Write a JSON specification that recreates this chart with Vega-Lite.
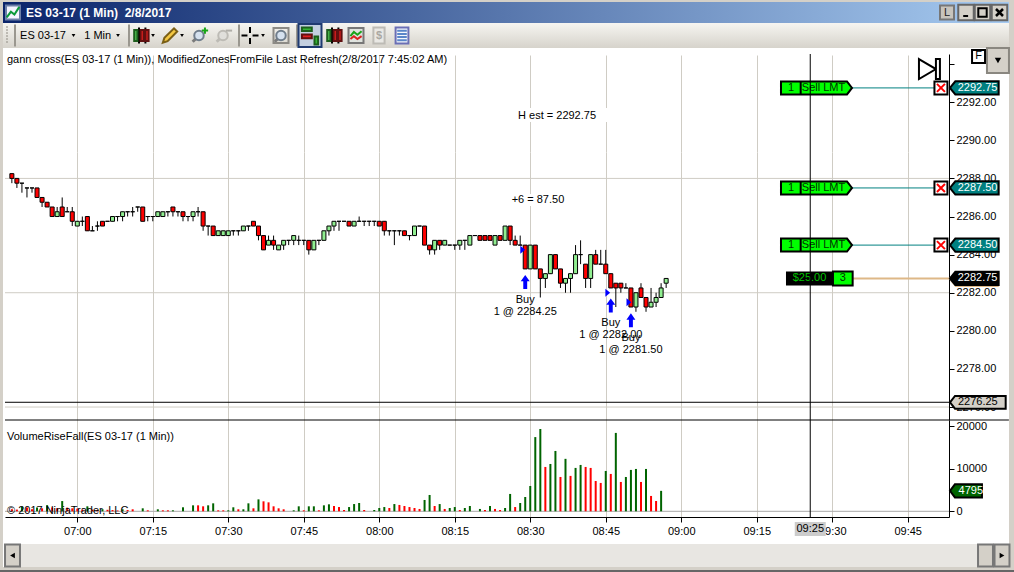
{
"$schema":"https://vega.github.io/schema/vega-lite/v6.json",
"width":1014,"height":572,
"autosize":{"type":"fit","contains":"padding"},
"padding":0,
"background":"white",
"config":{
 "view":{"stroke":null},
 "text":{"font":"Liberation Sans","fontSize":11,"color":"black"},
 "axis":{"labelFont":"Liberation Sans","labelFontSize":11,"labelColor":"black","domainColor":"black","tickColor":"black","gridColor":"#cfccc4","tickSize":5}
},
"datasets":{
 "sells":[{"p":2292.75,"label":"2292.75"},{"p":2287.5,"label":"2287.50"},{"p":2284.5,"label":"2284.50"}],
 "bars":[
 {"m":407,"o":2288.25,"h":2288.25,"l":2287.75,"c":2288,"v":500,"d":"f"},
 {"m":408,"o":2288,"h":2288,"l":2287.5,"c":2287.75,"v":400,"d":"f"},
 {"m":409,"o":2287.75,"h":2287.75,"l":2287.25,"c":2287.75,"v":1100,"d":"r"},
 {"m":410,"o":2287.5,"h":2287.5,"l":2287,"c":2287.5,"v":900,"d":"f"},
 {"m":411,"o":2287.5,"h":2287.5,"l":2287.25,"c":2287.5,"v":500,"d":"f"},
 {"m":412,"o":2287.5,"h":2287.5,"l":2287,"c":2287,"v":900,"d":"r"},
 {"m":413,"o":2287,"h":2287,"l":2286.5,"c":2286.75,"v":700,"d":"f"},
 {"m":414,"o":2286.75,"h":2286.75,"l":2286.5,"c":2286.5,"v":1450,"d":"r"},
 {"m":415,"o":2286.5,"h":2286.5,"l":2286,"c":2286,"v":900,"d":"f"},
 {"m":416,"o":2286,"h":2286.5,"l":2286,"c":2286.25,"v":700,"d":"f"},
 {"m":417,"o":2286.5,"h":2287,"l":2286,"c":2286,"v":2400,"d":"r"},
 {"m":418,"o":2286.25,"h":2286.5,"l":2286.25,"c":2286.25,"v":860,"d":"f"},
 {"m":419,"o":2286.25,"h":2286.5,"l":2285.5,"c":2285.75,"v":700,"d":"f"},
 {"m":420,"o":2285.5,"h":2285.75,"l":2285.5,"c":2285.75,"v":620,"d":"f"},
 {"m":421,"o":2285.75,"h":2286,"l":2285.5,"c":2285.75,"v":400,"d":"f"},
 {"m":422,"o":2286,"h":2286,"l":2285.25,"c":2285.25,"v":1170,"d":"r"},
 {"m":423,"o":2285.25,"h":2285.5,"l":2285.25,"c":2285.25,"v":400,"d":"f"},
 {"m":424,"o":2285.5,"h":2285.75,"l":2285.25,"c":2285.5,"v":300,"d":"f"},
 {"m":425,"o":2285.75,"h":2285.75,"l":2285.5,"c":2285.5,"v":500,"d":"r"},
 {"m":426,"o":2285.75,"h":2285.75,"l":2285.75,"c":2285.75,"v":350,"d":"f"},
 {"m":427,"o":2285.75,"h":2286,"l":2285.75,"c":2286,"v":300,"d":"f"},
 {"m":428,"o":2286,"h":2286,"l":2285.75,"c":2286,"v":200,"d":"f"},
 {"m":429,"o":2286,"h":2286.25,"l":2285.75,"c":2286.25,"v":470,"d":"r"},
 {"m":430,"o":2286.25,"h":2286.25,"l":2286,"c":2286.25,"v":300,"d":"f"},
 {"m":431,"o":2286.25,"h":2286.5,"l":2286,"c":2286.25,"v":470,"d":"f"},
 {"m":432,"o":2286.5,"h":2286.5,"l":2286.25,"c":2286.5,"v":null,"d":"f"},
 {"m":433,"o":2286.5,"h":2286.5,"l":2285.75,"c":2285.75,"v":700,"d":"r"},
 {"m":434,"o":2286,"h":2286,"l":2285.75,"c":2286,"v":230,"d":"f"},
 {"m":435,"o":2286,"h":2286,"l":2285.75,"c":2286,"v":null,"d":"f"},
 {"m":436,"o":2286,"h":2286.25,"l":2286,"c":2286.25,"v":470,"d":"r"},
 {"m":437,"o":2286,"h":2286.25,"l":2286,"c":2286.25,"v":230,"d":"f"},
 {"m":438,"o":2286.25,"h":2286.25,"l":2286,"c":2286.25,"v":230,"d":"f"},
 {"m":439,"o":2286.5,"h":2286.5,"l":2286,"c":2286.25,"v":230,"d":"r"},
 {"m":440,"o":2286.25,"h":2286.25,"l":2286,"c":2286.25,"v":null,"d":"f"},
 {"m":441,"o":2286.25,"h":2286.25,"l":2285.75,"c":2286,"v":940,"d":"r"},
 {"m":442,"o":2286,"h":2286,"l":2285.75,"c":2286,"v":null,"d":"f"},
 {"m":443,"o":2286,"h":2286.25,"l":2285.75,"c":2286.25,"v":1400,"d":"r"},
 {"m":444,"o":2286.25,"h":2286.5,"l":2286,"c":2286.25,"v":1400,"d":"f"},
 {"m":445,"o":2286.25,"h":2286.25,"l":2285.25,"c":2285.5,"v":1170,"d":"f"},
 {"m":446,"o":2285.5,"h":2285.5,"l":2285,"c":2285.5,"v":1400,"d":"r"},
 {"m":447,"o":2285.5,"h":2285.5,"l":2285,"c":2285,"v":1870,"d":"r"},
 {"m":448,"o":2285,"h":2285.25,"l":2285,"c":2285.25,"v":230,"d":"f"},
 {"m":449,"o":2285,"h":2285.25,"l":2285,"c":2285.25,"v":230,"d":"f"},
 {"m":450,"o":2285,"h":2285.25,"l":2285,"c":2285.25,"v":230,"d":"r"},
 {"m":451,"o":2285.25,"h":2285.25,"l":2285,"c":2285.25,"v":940,"d":"r"},
 {"m":452,"o":2285.25,"h":2285.25,"l":2285,"c":2285.25,"v":470,"d":"f"},
 {"m":453,"o":2285.25,"h":2285.5,"l":2285.25,"c":2285.5,"v":470,"d":"r"},
 {"m":454,"o":2285.5,"h":2285.5,"l":2285.25,"c":2285.5,"v":1870,"d":"r"},
 {"m":455,"o":2285.75,"h":2285.75,"l":2285.5,"c":2285.5,"v":700,"d":"f"},
 {"m":456,"o":2285.5,"h":2285.5,"l":2284.75,"c":2285,"v":2800,"d":"r"},
 {"m":457,"o":2285,"h":2285,"l":2284.25,"c":2284.25,"v":2340,"d":"f"},
 {"m":458,"o":2284.5,"h":2285,"l":2284.5,"c":2284.75,"v":2100,"d":"f"},
 {"m":459,"o":2284.75,"h":2285,"l":2284.25,"c":2284.5,"v":1170,"d":"f"},
 {"m":460,"o":2284.25,"h":2284.5,"l":2284.25,"c":2284.5,"v":700,"d":"f"},
 {"m":461,"o":2284.5,"h":2284.75,"l":2284.25,"c":2284.75,"v":470,"d":"f"},
 {"m":462,"o":2284.75,"h":2284.75,"l":2284.5,"c":2284.75,"v":null,"d":"f"},
 {"m":463,"o":2284.75,"h":2285,"l":2284.5,"c":2285,"v":230,"d":"r"},
 {"m":464,"o":2284.75,"h":2285,"l":2284.5,"c":2284.75,"v":1170,"d":"r"},
 {"m":465,"o":2284.75,"h":2284.75,"l":2284.5,"c":2284.75,"v":230,"d":"f"},
 {"m":466,"o":2284.75,"h":2284.75,"l":2284,"c":2284.25,"v":1170,"d":"r"},
 {"m":467,"o":2284.25,"h":2284.75,"l":2284.25,"c":2284.75,"v":1170,"d":"r"},
 {"m":468,"o":2284.75,"h":2284.75,"l":2284.5,"c":2284.75,"v":230,"d":"f"},
 {"m":469,"o":2284.75,"h":2285.25,"l":2284.75,"c":2285.25,"v":1400,"d":"r"},
 {"m":470,"o":2285.25,"h":2285.5,"l":2285,"c":2285.5,"v":1640,"d":"r"},
 {"m":471,"o":2285.5,"h":2285.75,"l":2285.25,"c":2285.75,"v":1250,"d":"f"},
 {"m":472,"o":2285.75,"h":2285.75,"l":2285.25,"c":2285.75,"v":1000,"d":"f"},
 {"m":473,"o":2285.75,"h":2285.75,"l":2285.75,"c":2285.75,"v":310,"d":"f"},
 {"m":474,"o":2285.75,"h":2285.75,"l":2285.5,"c":2285.5,"v":1000,"d":"r"},
 {"m":475,"o":2285.5,"h":2285.75,"l":2285.5,"c":2285.75,"v":1700,"d":"r"},
 {"m":476,"o":2285.75,"h":2286,"l":2285.75,"c":2285.75,"v":1950,"d":"r"},
 {"m":477,"o":2285.75,"h":2285.75,"l":2285.5,"c":2285.75,"v":310,"d":"f"},
 {"m":478,"o":2285.75,"h":2285.75,"l":2285.5,"c":2285.75,"v":null,"d":"f"},
 {"m":479,"o":2285.75,"h":2285.75,"l":2285.5,"c":2285.75,"v":310,"d":"r"},
 {"m":480,"o":2285.75,"h":2285.75,"l":2285.5,"c":2285.5,"v":780,"d":"r"},
 {"m":481,"o":2285.75,"h":2285.75,"l":2285,"c":2285.25,"v":1000,"d":"r"},
 {"m":482,"o":2285.25,"h":2285.25,"l":2285,"c":2285.25,"v":780,"d":"f"},
 {"m":483,"o":2285.25,"h":2285.25,"l":2284.5,"c":2285.25,"v":1700,"d":"r"},
 {"m":484,"o":2285.25,"h":2285.25,"l":2285,"c":2285.25,"v":1490,"d":"f"},
 {"m":485,"o":2285.25,"h":2285.25,"l":2285,"c":2285,"v":1250,"d":"f"},
 {"m":486,"o":2285,"h":2285,"l":2284.75,"c":2285,"v":1000,"d":"f"},
 {"m":487,"o":2285,"h":2285.5,"l":2285,"c":2285.5,"v":780,"d":"f"},
 {"m":488,"o":2285.5,"h":2285.5,"l":2285.5,"c":2285.5,"v":550,"d":"f"},
 {"m":489,"o":2285.5,"h":2285.5,"l":2284.5,"c":2284.5,"v":2660,"d":"r"},
 {"m":490,"o":2284.5,"h":2284.5,"l":2284,"c":2284.25,"v":3830,"d":"r"},
 {"m":491,"o":2284.25,"h":2284.75,"l":2284,"c":2284.75,"v":1250,"d":"f"},
 {"m":492,"o":2284.75,"h":2284.75,"l":2284.25,"c":2284.5,"v":1700,"d":"r"},
 {"m":493,"o":2284.5,"h":2284.75,"l":2284.5,"c":2284.75,"v":550,"d":"f"},
 {"m":494,"o":2284.5,"h":2284.5,"l":2284.5,"c":2284.5,"v":780,"d":"r"},
 {"m":495,"o":2284.5,"h":2284.5,"l":2284.25,"c":2284.5,"v":1000,"d":"r"},
 {"m":496,"o":2284.5,"h":2284.75,"l":2284.25,"c":2284.75,"v":310,"d":"f"},
 {"m":497,"o":2284.75,"h":2284.75,"l":2284.25,"c":2284.75,"v":780,"d":"r"},
 {"m":498,"o":2284.5,"h":2285,"l":2284.5,"c":2285,"v":1250,"d":"r"},
 {"m":499,"o":2285,"h":2285,"l":2285,"c":2285,"v":null,"d":"f"},
 {"m":500,"o":2285,"h":2285,"l":2284.75,"c":2284.75,"v":550,"d":"r"},
 {"m":501,"o":2285,"h":2285,"l":2284.75,"c":2284.75,"v":310,"d":"f"},
 {"m":502,"o":2285,"h":2285,"l":2284.75,"c":2284.75,"v":1250,"d":"r"},
 {"m":503,"o":2284.5,"h":2285,"l":2284.5,"c":2285,"v":550,"d":"f"},
 {"m":504,"o":2285,"h":2285,"l":2284.75,"c":2284.75,"v":310,"d":"f"},
 {"m":505,"o":2284.75,"h":2285.5,"l":2284.75,"c":2285.5,"v":780,"d":"r"},
 {"m":506,"o":2285.5,"h":2285.5,"l":2284.5,"c":2284.75,"v":4070,"d":"r"},
 {"m":507,"o":2284.75,"h":2285,"l":2284.5,"c":2284.5,"v":1000,"d":"f"},
 {"m":508,"o":2284.5,"h":2285,"l":2284.5,"c":2284.5,"v":1950,"d":"r"},
 {"m":509,"o":2284.5,"h":2284.5,"l":2283.25,"c":2283.25,"v":3360,"d":"r"},
 {"m":510,"o":2283.25,"h":2284.5,"l":2283.25,"c":2284.5,"v":5940,"d":"r"},
 {"m":511,"o":2284.5,"h":2284.5,"l":2283.25,"c":2283.25,"v":17400,"d":"r"},
 {"m":512,"o":2283.25,"h":2283.25,"l":2281.75,"c":2282.75,"v":19300,"d":"r"},
 {"m":513,"o":2282.75,"h":2283,"l":2282.25,"c":2283,"v":10400,"d":"f"},
 {"m":514,"o":2283,"h":2284,"l":2283,"c":2284,"v":11100,"d":"r"},
 {"m":515,"o":2284,"h":2284,"l":2283.25,"c":2283.25,"v":14150,"d":"r"},
 {"m":516,"o":2283.25,"h":2283.25,"l":2282.25,"c":2282.5,"v":8050,"d":"f"},
 {"m":517,"o":2282.5,"h":2282.75,"l":2282,"c":2282.75,"v":12300,"d":"r"},
 {"m":518,"o":2282.75,"h":2283,"l":2282,"c":2283,"v":8300,"d":"f"},
 {"m":519,"o":2283,"h":2284.5,"l":2283,"c":2284,"v":10170,"d":"r"},
 {"m":520,"o":2284,"h":2284.75,"l":2283.5,"c":2284,"v":10870,"d":"r"},
 {"m":521,"o":2283.5,"h":2283.5,"l":2282.25,"c":2282.75,"v":10400,"d":"f"},
 {"m":522,"o":2282.75,"h":2284,"l":2282.25,"c":2284,"v":10170,"d":"f"},
 {"m":523,"o":2284,"h":2284.25,"l":2283.5,"c":2283.5,"v":7100,"d":"f"},
 {"m":524,"o":2283.5,"h":2284.25,"l":2283.5,"c":2283.5,"v":6650,"d":"f"},
 {"m":525,"o":2283.5,"h":2284.25,"l":2283,"c":2283,"v":9460,"d":"r"},
 {"m":526,"o":2283,"h":2283,"l":2282.25,"c":2282.25,"v":8760,"d":"f"},
 {"m":527,"o":2282.5,"h":2282.5,"l":2281.25,"c":2282.25,"v":18380,"d":"r"},
 {"m":528,"o":2282.5,"h":2282.5,"l":2282,"c":2282.25,"v":6880,"d":"f"},
 {"m":529,"o":2282.25,"h":2282.5,"l":2282.25,"c":2282.25,"v":8050,"d":"r"},
 {"m":530,"o":2282.25,"h":2282.25,"l":2281.25,"c":2281.25,"v":9700,"d":"r"},
 {"m":531,"o":2281.25,"h":2282,"l":2281,"c":2282,"v":9930,"d":"r"},
 {"m":532,"o":2282.25,"h":2282.5,"l":2281.75,"c":2281.75,"v":6880,"d":"f"},
 {"m":533,"o":2281.75,"h":2281.75,"l":2281,"c":2281.25,"v":9930,"d":"r"},
 {"m":534,"o":2281.25,"h":2282.25,"l":2281.25,"c":2281.5,"v":3600,"d":"f"},
 {"m":535,"o":2281.5,"h":2282,"l":2281.25,"c":2281.75,"v":2420,"d":"f"},
 {"m":536,"o":2281.75,"h":2282.5,"l":2281.75,"c":2282.25,"v":4795,"d":"r"},
 {"m":537,"o":2282.5,"h":2282.75,"l":2282.25,"c":2282.75,"v":null,"d":"r"}
 ]
},
"resolve":{"scale":{"x":"independent","y":"independent"}},
"layer":[
{
 "encoding":{
  "x":{"field":"slot","type":"quantitative","axis":null,"scale":{"domain":[0,1,2,3,4,10,11,12,13,14,15,21,22,23,24,25,26,27,28,29,30,31,32,33,34,35,36,37,38,39,40,41,42,43,51,52,53],"range":[0,3,5,1009,1014,13,26,947,966,982.5,999.5,7,15,43,73.5,97.7,118,129,141,153,170,182,199,223,239,250,263,281,297,310,334,356,379,402,12.5,985.5,1002],"zero":false,"nice":false}},
  "y":{"field":"band","type":"quantitative","axis":null,"scale":{"domain":[-1,0,1,2,3,4,5,6],"range":[0,2,23,48,544,567,570,572],"zero":false,"nice":false}}
 },
 "layer":[
  {"data":{"values":[{"slot":1,"slot2":3,"band":0,"band2":1}]},"mark":{"type":"rect","color":{"gradient":"linear","x1":0,"y1":0,"x2":1,"y2":0,"stops":[{"offset":0,"color":"#0a246a"},{"offset":1,"color":"#a6caf0"}]}},"encoding":{"x2":{"field":"slot2"},"y2":{"field":"band2"}}},
  {"data":{"values":[{"slot":1,"slot2":3,"band":1,"band2":2}]},"mark":{"type":"rect","color":{"gradient":"linear","x1":0,"y1":0,"x2":0,"y2":1,"stops":[{"offset":0,"color":"#f6f5f1"},{"offset":1,"color":"#d6d3cb"}]}},"encoding":{"x2":{"field":"slot2"},"y2":{"field":"band2"}}},
  {"data":{"values":[{"slot":0,"slot2":1,"band":-1,"band2":6},{"slot":3,"slot2":4,"band":-1,"band2":6},{"slot":0,"slot2":4,"band":-1,"band2":0},{"slot":0,"slot2":4,"band":4,"band2":6}]},"mark":{"type":"rect","color":"#d4d0c8"},"encoding":{"x2":{"field":"slot2"},"y2":{"field":"band2"}}},
  {"data":{"values":[{"slot":2,"slot2":3,"band":3,"band2":4}]},"mark":{"type":"rect","color":"#e8e6e2"},"encoding":{"x2":{"field":"slot2"},"y2":{"field":"band2"}}},
  {"data":{"values":[{"slot":0,"slot2":4,"band":5,"band2":6}]},"mark":{"type":"rect","color":"#666666"},"encoding":{"x2":{"field":"slot2"},"y2":{"field":"band2"}}},
  {"data":{"values":[{"slot":10,"band":0.5}]},"mark":{"type":"point","shape":"M-1,-1L1,-1L1,1L-1,1Z","size":196,"filled":true,"fill":"#f4f4ff","stroke":"#6c7fa8","opacity":1}},
  {"data":{"values":[{"slot":10,"band":0.5}]},"mark":{"type":"point","shape":"M-.9,.7L-.3,-.1L.2,.3L.9,-.8","size":196,"filled":false,"stroke":"#0a9a3a","strokeWidth":2,"opacity":1}},
  {"data":{"values":[{"slot":11,"band":0.5,"label":"ES 03-17 (1 Min)\u00a0 2/8/2017"}]},"mark":{"type":"text","align":"left","color":"white","fontWeight":"bold","fontSize":12},"encoding":{"text":{"field":"label"}}},
  {"data":{"values":[{"slot":12,"band":0.5}]},"mark":{"type":"point","shape":"square","size":196,"filled":true,"fill":"#c8c4bc","stroke":"#777777","strokeWidth":2,"opacity":1}},
  {"data":{"values":[{"slot":12,"band":0.5,"label":"L"}]},"mark":{"type":"text","color":"#222222"},"encoding":{"text":{"field":"label"}}},
  {"data":{"values":[{"slot":13,"band":0.5},{"slot":14,"band":0.5},{"slot":15,"band":0.5}]},"mark":{"type":"point","shape":"square","size":240,"filled":true,"fill":"#d4d0c8","stroke":"#666666","opacity":1}},
  {"data":{"values":[{"slot":13,"band":0.5}]},"mark":{"type":"point","shape":"M-.4,.5L.3,.5","size":196,"filled":false,"stroke":"black","strokeWidth":2,"opacity":1}},
  {"data":{"values":[{"slot":14,"band":0.5}]},"mark":{"type":"point","shape":"M-.6,-.6L.6,-.6L.6,.6L-.6,.6Z","size":196,"filled":false,"stroke":"black","opacity":1}},
  {"data":{"values":[{"slot":15,"band":0.5}]},"mark":{"type":"point","shape":"M-.5,-.5L.5,.5M.5,-.5L-.5,.5","size":196,"filled":false,"stroke":"black","strokeWidth":2.5,"opacity":1}},
  {"data":{"values":[{"slot":22,"band":1.5},{"slot":27,"band":1.5},{"slot":34,"band":1.5},{"slot":38,"band":1.5}]},"mark":{"type":"point","shape":"M0,-1L0,1","size":484,"filled":false,"stroke":"#9a978f","opacity":1}},
  {"data":{"values":[{"slot":21,"band":1.5}]},"mark":{"type":"point","shape":"M0,-1L0,1","size":324,"filled":false,"stroke":"#8f8c84","strokeWidth":2,"strokeDash":[1,2],"opacity":1}},
  {"data":{"values":[{"slot":23,"band":1.5,"label":"ES 03-17"},{"slot":25,"band":1.5,"label":"1 Min"}]},"mark":{"type":"text"},"encoding":{"text":{"field":"label"}}},
  {"data":{"values":[{"slot":24,"band":1.5},{"slot":26,"band":1.5},{"slot":29,"band":1.5},{"slot":31,"band":1.5},{"slot":36,"band":1.5}]},"mark":{"type":"point","shape":"triangle-down","size":14,"filled":true,"color":"black","opacity":1}},
  {"data":{"values":[{"slot":39,"band":1.5}]},"mark":{"type":"point","shape":"square","size":529,"filled":true,"fill":"#c3cfe0","stroke":"#1f3a70","opacity":1}},
  {"data":{"values":[{"slot":28,"band":1.5},{"slot":40,"band":1.5}]},"mark":{"type":"point","shape":"M-.25,-1L-.25,1M.55,-1L.55,1","size":256,"filled":false,"stroke":"black","opacity":1}},
  {"data":{"values":[{"slot":28,"band":1.5},{"slot":40,"band":1.5}]},"mark":{"type":"point","shape":"M-.85,-.7L-.45,-.7L-.45,.7L-.85,.7Z","size":256,"filled":true,"fill":"#52c452","stroke":"#1d5e1d","opacity":1}},
  {"data":{"values":[{"slot":28,"band":1.5},{"slot":40,"band":1.5}]},"mark":{"type":"point","shape":"M-.05,-.7L.35,-.7L.35,.7L-.05,.7ZM.55,-.7L.95,-.7L.95,.7L.55,.7Z","size":256,"filled":true,"fill":"#e32020","stroke":"#611010","opacity":1}},
  {"data":{"values":[{"slot":39,"band":1.5}]},"mark":{"type":"point","shape":"M-.9,-.9L.2,-.9L.2,-.5L-.9,-.5Z","size":324,"filled":true,"fill":"#35b535","stroke":"#1d5e1d","opacity":1}},
  {"data":{"values":[{"slot":39,"band":1.5}]},"mark":{"type":"point","shape":"M-.9,-.1L.2,-.1L.2,.3L-.9,.3Z","size":324,"filled":true,"fill":"#e32020","stroke":"#611010","opacity":1}},
  {"data":{"values":[{"slot":39,"band":1.5}]},"mark":{"type":"point","shape":"M.5,.1L.9,.1L.9,1L.5,1Z","size":324,"filled":true,"fill":"#35b535","stroke":"#1d5e1d","opacity":1}},
  {"data":{"values":[{"slot":30,"band":1.5}]},"mark":{"type":"point","shape":"M-.9,.9L-.7,.3L.5,-.9L.9,-.5L-.3,.7Z","size":256,"filled":true,"fill":"#f5c842","stroke":"#7a5f16","opacity":1}},
  {"data":{"values":[{"slot":32,"band":1.5},{"slot":37,"band":1.5}]},"mark":{"type":"point","shape":"M-.9,.9L-.2,.2","size":196,"filled":false,"stroke":"#7b7b7b","strokeWidth":3,"opacity":1}},
  {"data":{"values":[{"slot":33,"band":1.5}]},"mark":{"type":"point","shape":"M-.9,.9L-.2,.2","size":196,"filled":false,"stroke":"#bdbbb5","strokeWidth":3,"opacity":1}},
  {"data":{"values":[{"slot":32,"band":1.5},{"slot":37,"band":1.5}]},"mark":{"type":"point","shape":"circle","size":90,"filled":true,"fill":"#d5e1ef","stroke":"#6f7d8c","opacity":1}},
  {"data":{"values":[{"slot":33,"band":1.5}]},"mark":{"type":"point","shape":"circle","size":90,"filled":true,"fill":"#e0dfdb","stroke":"#bdbbb5","opacity":1}},
  {"data":{"values":[{"slot":32,"band":1.5}]},"mark":{"type":"point","shape":"M.4,-.7L1.3,-.7M.85,-1.15L.85,-.25","size":196,"filled":false,"stroke":"#17a517","strokeWidth":2,"opacity":1}},
  {"data":{"values":[{"slot":33,"band":1.5}]},"mark":{"type":"point","shape":"M.4,-.7L1.3,-.7","size":196,"filled":false,"stroke":"#b0aea8","strokeWidth":2,"opacity":1}},
  {"data":{"values":[{"slot":35,"band":1.5}]},"mark":{"type":"point","shape":"M-1,0L-.3,0M.3,0L1,0M0,-1L0,-.3M0,.3L0,1","size":289,"filled":false,"stroke":"black","strokeWidth":2,"opacity":1}},
  {"data":{"values":[{"slot":37,"band":1.5}]},"mark":{"type":"point","shape":"M-1,-1L1,-1L1,1L-1,1Z","size":225,"filled":false,"stroke":"#8c8a85","opacity":1}},
  {"data":{"values":[{"slot":41,"band":1.5}]},"mark":{"type":"point","shape":"square","size":225,"filled":true,"fill":"#dfe3de","stroke":"#777777","opacity":1}},
  {"data":{"values":[{"slot":41,"band":1.5}]},"mark":{"type":"point","shape":"M-.8,.1L-.3,-.5L.2,-.1L.8,-.6","size":196,"filled":false,"stroke":"#1aa31a","opacity":1}},
  {"data":{"values":[{"slot":41,"band":1.5}]},"mark":{"type":"point","shape":"M-.8,.5L-.3,.1L.2,.5L.8,.1","size":196,"filled":false,"stroke":"#d92020","opacity":1}},
  {"data":{"values":[{"slot":42,"band":1.5}]},"mark":{"type":"point","shape":"M-.7,-1L.7,-1L.7,1L-.7,1Z","size":256,"filled":true,"fill":"#e9e8e4","stroke":"#bdbbb5","opacity":1}},
  {"data":{"values":[{"slot":42,"band":1.5,"label":"$"}]},"mark":{"type":"text","fontWeight":"bold","color":"#a9a7a1"},"encoding":{"text":{"field":"label"}}},
  {"data":{"values":[{"slot":43,"band":1.5}]},"mark":{"type":"point","shape":"M-.8,-1L.8,-1L.8,1L-.8,1Z","size":256,"filled":true,"fill":"#f4f6fb","stroke":"#6a6fb5","opacity":1}},
  {"data":{"values":[{"slot":43,"band":1.5}]},"mark":{"type":"point","shape":"M-.6,-.6L.6,-.6M-.6,-.2L.6,-.2M-.6,.2L.6,.2M-.6,.6L.6,.6","size":256,"filled":false,"stroke":"#5a86c9","opacity":1}},
  {"data":{"values":[{"slot":51,"band":3.5},{"slot":52,"band":3.5},{"slot":53,"band":3.5}]},"mark":{"type":"point","shape":"M-.68,-1L.68,-1L.68,1L-.68,1Z","size":484,"filled":true,"fill":"#d4d0c8","stroke":"#777777","opacity":1}},
  {"data":{"values":[{"slot":51,"band":3.5}]},"mark":{"type":"point","shape":"triangle-left","size":30,"filled":true,"color":"black","opacity":1}},
  {"data":{"values":[{"slot":53,"band":3.5}]},"mark":{"type":"point","shape":"triangle-right","size":30,"filled":true,"color":"black","opacity":1}}
 ]
},
{
 "layer":[
  {"data":{"values":[{"p":2288},{"p":2282},{"p":2276}]},"mark":{"type":"rule","color":"#cfccc4"},
   "encoding":{
    "x":{"datum":405.635,"type":"quantitative","scale":{"domain":[405.635,593.2],"range":[5,949],"padding":0,"zero":false,"nice":false},
     "axis":{"title":null,"orient":"bottom","offset":-152,"grid":true,"labels":false,"ticks":false,"domain":false,"values":[420,435,450,465,480,495,510,525,540,555,570,585]}},
    "x2":{"datum":593.2},
    "y":{"field":"p","type":"quantitative","scale":{"domain":[2275.32,2294.53],"range":[420,54],"zero":false,"nice":false},
     "axis":{"title":null,"orient":"right","offset":-65,"values":[2276,2278,2280,2282,2284,2286,2288,2290,2292,2294],"labelExpr":"datum.value>2293?'':format(datum.value,'.2f')","labelPadding":2,"grid":false}}}},
  {"data":{"name":"bars"},"mark":{"type":"rule","color":"black"},
   "encoding":{"x":{"field":"m","type":"quantitative"},"y":{"field":"l","type":"quantitative"},"y2":{"field":"h"}}},
  {"data":{"name":"bars"},"mark":{"type":"bar","size":4,"stroke":"black","strokeWidth":1},
   "encoding":{"x":{"field":"m","type":"quantitative"},"y":{"field":"o","type":"quantitative","stack":null},"y2":{"field":"c"},
    "color":{"condition":{"test":"datum.c<datum.o","value":"#ff0000"},"value":"#90ee90"}}},
  {"data":{"values":[{"m":508.5,"p":2284.25},{"m":525.4,"p":2282},{"m":529.6,"p":2281.5}]},
   "mark":{"type":"point","shape":"M-.6,-1L.6,0L-.6,1Z","size":64,"filled":true,"color":"#0000ff","opacity":1},
   "encoding":{"x":{"field":"m","type":"quantitative"},"y":{"field":"p","type":"quantitative"}}},
  {"data":{"values":[{"m":509,"p":2282.56},{"m":526,"p":2281.33},{"m":530,"p":2280.55}]},
   "mark":{"type":"point","shape":"M0,-1L.64,-.1L.28,-.1L.28,1L-.28,1L-.28,-.1L-.64,-.1Z","size":196,"filled":true,"color":"#0000ff","opacity":1},
   "encoding":{"x":{"field":"m","type":"quantitative"},"y":{"field":"p","type":"quantitative"}}},
  {"data":{"values":[{"m":506.57,"m2":525.83,"p":2291.7,"p2":2290.96},{"m":504.98,"m2":518.3,"p":2287.18,"p2":2286.55}]},
   "mark":{"type":"rect","color":"white"},
   "encoding":{"x":{"field":"m","type":"quantitative"},"x2":{"field":"m2"},"y":{"field":"p","type":"quantitative"},"y2":{"field":"p2"}}},
  {"data":{"values":[
    {"m":509,"p":2281.62,"label":"Buy"},{"m":509,"p":2280.99,"label":"1 @ 2284.25"},
    {"m":526,"p":2280.41,"label":"Buy"},{"m":526,"p":2279.78,"label":"1 @ 2282.00"},
    {"m":530,"p":2279.62,"label":"Buy"},{"m":530,"p":2278.99,"label":"1 @ 2281.50"},
    {"m":515.32,"p":2291.28,"label":"H est = 2292.75"},{"m":511.53,"p":2286.87,"label":"+6 = 87.50"}]},
   "mark":{"type":"text"},
   "encoding":{"x":{"field":"m","type":"quantitative"},"y":{"field":"p","type":"quantitative"},"text":{"field":"label"}}},
  {"data":{"values":[{"m":406.03,"p":2294.22,"label":"gann cross(ES 03-17 (1 Min)), ModifiedZonesFromFile Last Refresh(2/8/2017 7:45:02 AM)"}]},
   "mark":{"type":"text","align":"left"},
   "encoding":{"x":{"field":"m","type":"quantitative"},"y":{"field":"p","type":"quantitative"},"text":{"field":"label"}}},
  {"data":{"name":"sells"},"mark":{"type":"rule","color":"#008080"},
   "encoding":{"x":{"datum":573.93,"type":"quantitative"},"x2":{"datum":590.22},"y":{"field":"p","type":"quantitative"}}},
  {"data":{"values":[{"p":2282.75}]},"mark":{"type":"rule","color":"#deb887","strokeWidth":2},
   "encoding":{"x":{"datum":573.93,"type":"quantitative"},"x2":{"datum":593.4},"y":{"field":"p","type":"quantitative"}}},
  {"data":{"values":[{"p":2276.25}]},"mark":{"type":"rule","color":"black"},
   "encoding":{"x":{"datum":405.635,"type":"quantitative"},"x2":{"datum":593.2},"y":{"field":"p","type":"quantitative"}}},
  {"data":{"name":"sells"},"mark":{"type":"point","shape":"M-1,-.183L.86,-.183L1,0L.86,.183L-1,.183Z","size":5041,"filled":true,"fill":"#00ff00","stroke":"black","opacity":1},
   "encoding":{"x":{"datum":566.87,"type":"quantitative"},"y":{"field":"p","type":"quantitative"}}},
  {"data":{"name":"sells"},"mark":{"type":"point","shape":"M0,-1L0,1","size":169,"filled":false,"stroke":"black","opacity":1},
   "encoding":{"x":{"datum":563.73,"type":"quantitative"},"y":{"field":"p","type":"quantitative"}}},
  {"data":{"name":"sells"},"mark":{"type":"text","color":"#003300"},
   "encoding":{"x":{"datum":561.8,"type":"quantitative"},"y":{"field":"p","type":"quantitative"},"text":{"value":"1"}}},
  {"data":{"name":"sells"},"mark":{"type":"text","color":"#003300"},
   "encoding":{"x":{"datum":568.27,"type":"quantitative"},"y":{"field":"p","type":"quantitative"},"text":{"value":"Sell LMT"}}},
  {"data":{"name":"sells"},"mark":{"type":"point","shape":"square","size":169,"filled":true,"fill":"white","stroke":"black","opacity":1},
   "encoding":{"x":{"datum":591.6,"type":"quantitative"},"y":{"field":"p","type":"quantitative"}}},
  {"data":{"name":"sells"},"mark":{"type":"point","shape":"M-1,-1L1,1M-1,1L1,-1","size":64,"filled":false,"stroke":"#ff0000","strokeWidth":2,"opacity":1},
   "encoding":{"x":{"datum":591.6,"type":"quantitative"},"y":{"field":"p","type":"quantitative"}}},
  {"data":{"name":"sells"},"mark":{"type":"point","shape":"M-1,0L-.78,-.27L1,-.27L1,.27L-.78,.27Z","size":2372,"filled":true,"fill":"#008080","stroke":"black","opacity":1},
   "encoding":{"x":{"datum":598.23,"type":"quantitative"},"y":{"field":"p","type":"quantitative"}}},
  {"data":{"name":"sells"},"mark":{"type":"text","color":"white"},
   "encoding":{"x":{"datum":598.87,"type":"quantitative"},"y":{"field":"p","type":"quantitative"},"text":{"field":"label"}}},
  {"data":{"values":[{"p":2282.75}]},"mark":{"type":"point","shape":"M-1,-.3L1,-.3L1,.3L-1,.3Z","size":2209,"filled":true,"fill":"black","opacity":1},
   "encoding":{"x":{"datum":565.48,"type":"quantitative"},"y":{"field":"p","type":"quantitative"}}},
  {"data":{"values":[{"p":2282.75}]},"mark":{"type":"point","shape":"M-1,-.71L1,-.71L1,.71L-1,.71Z","size":388,"filled":true,"fill":"#00ff00","stroke":"black","opacity":1},
   "encoding":{"x":{"datum":572.1,"type":"quantitative"},"y":{"field":"p","type":"quantitative"}}},
  {"data":{"values":[{"p":2282.75}]},"mark":{"type":"text","color":"#00c000"},
   "encoding":{"x":{"datum":565.48,"type":"quantitative"},"y":{"field":"p","type":"quantitative"},"text":{"value":"$25.00"}}},
  {"data":{"values":[{"p":2282.75}]},"mark":{"type":"text","color":"#003300"},
   "encoding":{"x":{"datum":572.1,"type":"quantitative"},"y":{"field":"p","type":"quantitative"},"text":{"value":"3"}}},
  {"data":{"values":[{"p":2282.75}]},"mark":{"type":"point","shape":"M-1,0L-.78,-.27L1,-.27L1,.27L-.78,.27Z","size":2372,"filled":true,"fill":"#deb887","opacity":1,"yOffset":2},
   "encoding":{"x":{"datum":598.23,"type":"quantitative"},"y":{"field":"p","type":"quantitative"}}},
  {"data":{"values":[{"p":2282.75}]},"mark":{"type":"point","shape":"M-1,0L-.78,-.27L1,-.27L1,.27L-.78,.27Z","size":2372,"filled":true,"fill":"black","stroke":"black","opacity":1},
   "encoding":{"x":{"datum":598.23,"type":"quantitative"},"y":{"field":"p","type":"quantitative"}}},
  {"data":{"values":[{"p":2282.75}]},"mark":{"type":"text","color":"white"},
   "encoding":{"x":{"datum":598.87,"type":"quantitative"},"y":{"field":"p","type":"quantitative"},"text":{"value":"2282.75"}}},
  {"data":{"values":[{"p":2276.25}]},"mark":{"type":"point","shape":"M-1,0L-.82,-.23L1,-.23L1,.23L-.82,.23Z","size":3102,"filled":true,"fill":"#d4d0c8","stroke":"black","opacity":1},
   "encoding":{"x":{"datum":598.93,"type":"quantitative"},"y":{"field":"p","type":"quantitative"}}},
  {"data":{"values":[{"p":2276.25}]},"mark":{"type":"text"},
   "encoding":{"x":{"datum":598.93,"type":"quantitative"},"y":{"field":"p","type":"quantitative"},"text":{"value":"2276.25"}}},
  {"data":{"values":[{"p":2294.53,"p2":2275.32}]},"mark":{"type":"rule","color":"black"},
   "encoding":{"x":{"datum":565.63,"type":"quantitative"},"y":{"field":"p","type":"quantitative"},"y2":{"field":"p2"}}},
  {"data":{"values":[{"p":2293.74}]},"mark":{"type":"point","shape":"M-.85,-1L.85,0L-.85,1Z","size":400,"filled":true,"fill":"white","stroke":"black","opacity":1},
   "encoding":{"x":{"datum":588.92,"type":"quantitative"},"y":{"field":"p","type":"quantitative"}}},
  {"data":{"values":[{"p":2293.74}]},"mark":{"type":"point","shape":"M-.2,-1L.2,-1L.2,1L-.2,1Z","size":400,"filled":true,"fill":"white","stroke":"black","opacity":1},
   "encoding":{"x":{"datum":591,"type":"quantitative"},"y":{"field":"p","type":"quantitative"}}},
  {"data":{"values":[{"p":2294.4}]},"mark":{"type":"point","shape":"square","size":169,"filled":true,"fill":"white","stroke":"black","opacity":1},
   "encoding":{"x":{"datum":599.07,"type":"quantitative"},"y":{"field":"p","type":"quantitative"}}},
  {"data":{"values":[{"p":2294.4}]},"mark":{"type":"text"},
   "encoding":{"x":{"datum":599.07,"type":"quantitative"},"y":{"field":"p","type":"quantitative"},"text":{"value":"F"}}},
  {"data":{"values":[{"p":2294.19}]},"mark":{"type":"point","shape":"M-.88,-1L.88,-1L.88,1L-.88,1Z","size":625,"filled":true,"fill":"#d4d0c8","stroke":"#8a8780","opacity":1},
   "encoding":{"x":{"datum":602.93,"type":"quantitative"},"y":{"field":"p","type":"quantitative"}}},
  {"data":{"values":[{"p":2294.19}]},"mark":{"type":"point","shape":"triangle-down","size":40,"filled":true,"color":"black","opacity":1},
   "encoding":{"x":{"datum":602.93,"type":"quantitative"},"y":{"field":"p","type":"quantitative"}}}
 ]
},
{
 "layer":[
  {"data":{"values":[{"v":0}]},"mark":{"type":"rule","color":"#a8a8a8"},
   "encoding":{
    "x":{"datum":405.635,"type":"quantitative","scale":{"domain":[405.635,593.2],"range":[5,949],"padding":0,"zero":false,"nice":false},
     "axis":{"title":null,"orient":"bottom","offset":-55,"grid":true,"values":[420,435,450,465,480,495,510,525,540,555,570,585],"labelExpr":"format(floor(datum.value/60),'02d')+':'+format(datum.value%60,'02d')","labelPadding":3}},
    "x2":{"datum":593.2},
    "y":{"field":"v","type":"quantitative","scale":{"domain":[-1336,21407],"range":[517,420],"zero":false,"nice":false},
     "axis":{"title":null,"orient":"right","offset":-65,"values":[0,10000,20000],"format":"d","labelPadding":2,"grid":false}}}},
  {"data":{"name":"bars"},"mark":{"type":"bar","size":2},
   "encoding":{"x":{"field":"m","type":"quantitative"},"y":{"field":"v","type":"quantitative","stack":null},
    "color":{"field":"d","type":"nominal","legend":null,"scale":{"domain":["r","f"],"range":["#006400","#ff0000"]}}}},
  {"data":{"values":[{"m":406.03,"v":17420,"label":"VolumeRiseFall(ES 03-17 (1 Min))"},{"m":406.03,"v":140,"label":"© 2017 NinjaTrader, LLC"}]},
   "mark":{"type":"text","align":"left"},
   "encoding":{"x":{"field":"m","type":"quantitative"},"y":{"field":"v","type":"quantitative"},"text":{"field":"label"}}},
  {"data":{"values":[{"v":4795}]},"mark":{"type":"point","shape":"M-1,0L-.69,-.41L1,-.41L1,.41L-.69,.41Z","size":1024,"filled":true,"fill":"#006400","stroke":"black","opacity":1},
   "encoding":{"x":{"datum":596.57,"type":"quantitative"},"y":{"field":"v","type":"quantitative"}}},
  {"data":{"values":[{"v":4795}]},"mark":{"type":"text","color":"white"},
   "encoding":{"x":{"datum":597.53,"type":"quantitative"},"y":{"field":"v","type":"quantitative"},"text":{"value":"4795"}}},
  {"data":{"values":[{"v":-4150}]},"mark":{"type":"point","shape":"M-1,-.45L1,-.45L1,.45L-1,.45Z","size":961,"filled":true,"fill":"#cccccc","opacity":1},
   "encoding":{"x":{"datum":565.63,"type":"quantitative"},"y":{"field":"v","type":"quantitative"}}},
  {"data":{"values":[{"v":-4150}]},"mark":{"type":"text"},
   "encoding":{"x":{"datum":565.63,"type":"quantitative"},"y":{"field":"v","type":"quantitative"},"text":{"value":"09:25"}}},
  {"data":{"values":[{"v":21407,"v2":-1336}]},"mark":{"type":"rule","color":"black"},
   "encoding":{"x":{"datum":565.63,"type":"quantitative"},"y":{"field":"v","type":"quantitative"},"y2":{"field":"v2"}}},
  {"data":{"values":[{"v":21407}]},"mark":{"type":"rule","color":"black"},
   "encoding":{"x":{"datum":405.635,"type":"quantitative"},"x2":{"datum":605.1},"y":{"field":"v","type":"quantitative"}}}
 ]
}
]
}
